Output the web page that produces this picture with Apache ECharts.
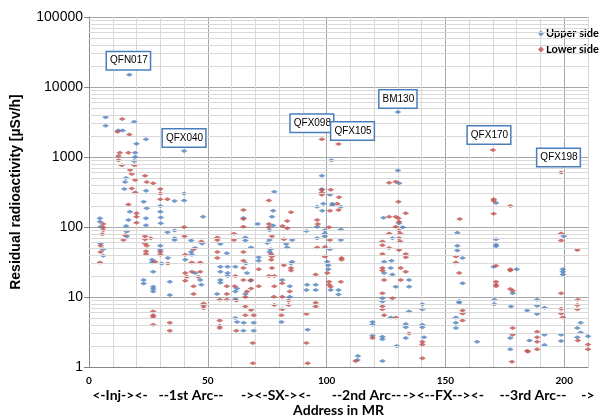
<!DOCTYPE html>
<html>
<head>
<meta charset="utf-8">
<script src="https://cdn.jsdelivr.net/npm/echarts@6/dist/echarts.min.js"></script>
<style>
html, body { margin: 0; padding: 0; background: #fff; }
#chart { width: 601px; height: 417px; }
</style>
</head>
<body>
<div id="chart"></div>
<script>
// address in MR, residual dose [uSv/h]
var upperSide = [
    [17,15000],[7,3700],[7,2800],[19,3200],[12.4,2400],[14.2,2400],[24,1800],[20,1550],[40,1220],
    [19.4,1150],[19.4,1000],[19,880],[15.6,500],[15.2,440],[14.9,350],[24,330],[40,300],[36,235],
    [40,240],[23,230],[24.3,185],[30,200],[30,165],[17.2,165],[24,133],[30.2,137],[48,140],[24,106],
    [30.2,113],[4.6,133],[4.6,119],[4.9,101],[15.6,103],[16.6,126],[15.9,86],[15.9,74],[33,84],
    [36,89],[36,69],[36,65],[43,64],[4.9,58],[6,48],[6,39],[30,54],[30,47],[44.7,50],[43,44],
    [26.5,34],[26.5,31],[47.6,58],[43.3,40],[40.5,34],[30.6,30],[33.2,36],[27,23],[44.7,22],
    [46.8,17.5],[47.3,15],[23,17.5],[23,15.6],[27,14],[27,13],[27,12],[34,16.5],[34,10.7],
    [102,900],[98,540],[98,345],[101.4,290],[106,195],[102.4,215],[102.4,205],[96,195],[98.6,215],
    [98.2,170],[96,101],[106,92],[99.2,90],[99.2,81],[99.2,74],[96,69],[106,65],[101.4,48],
    [100.3,32],[100.7,28.5],[100.7,25],[95.4,15],[101.7,12.6],[105,12.6],[95.4,12.6],[91.8,15],
    [91.5,12.6],[105,10.9],[92,3.4],[91.5,88],[78,320],[77.5,170],[77,140],[77.5,105],[71,110],
    [76,90],[76,65],[75,59],[85.5,65],[83,57],[83.4,51],[76.4,48],[76,44],[85.5,32],[85,30],
    [81.3,17.5],[84.5,14.3],[84.5,10.1],[81,4.4],[65,135],[65.8,71],[65.8,64],[55.3,57],[58,42],
    [68.2,51],[66,30],[71.4,37],[71.4,33],[55.3,27],[58.3,27],[61.6,27],[58.3,22],[58.3,20],
    [55.3,23],[66.5,22],[55.3,17.5],[55.3,16],[68,17],[62.3,13.2],[61.6,12],[53.9,11],[65.8,11],
    [61.6,9.3],[61.6,5],[62.3,4.4],[65.1,4.3],[69.3,4.3],[65,3.3],[69.3,3.3],
    [130,4400],[130,640],[130.5,420],[123.9,136],[130.5,113],[132,99],[127.7,69],[124.2,32],
    [127.3,33],[127,26],[124.2,22],[127.7,21],[134.7,17.5],[134.7,14],[129.1,14],[123.5,9.6],
    [123.5,8.6],[140.3,7.9],[140.3,6.7],[134.7,6.2],[127,5.1],[119.3,4.4],[119.3,4],[133.3,4.1],
    [133.3,3.7],[140.3,4],[140.3,3.7],[123.5,2.7],[123.5,2.5],[119.3,2.8],[133.3,2.6],[141,2.65],
    [129.5,2],[113.2,1.44],[113,1.26],[123.5,1.22],
    [155,83],[155,54],[155,46],[157.2,36],[157.2,15.7],[155.8,8.8],[155.8,8.3],[154.4,5.1],
    [154.4,4.3],[154.4,3.6],[163.3,2.3],
    [171.3,220],[171.3,67],[171.3,56],[171.3,53],[199.8,74],[170.3,27],[180,25],[199.4,25],
    [199.4,23],[199.4,21],[178.3,11.3],[170.6,9.1],[170.6,7.9],[188.6,9.1],[188.6,7.5],[177.6,7.3],
    [184.4,6.4],[191.7,7],[188.6,5.7],[206.9,4.3],[205.5,3.6],[206.9,3.1],[191.7,2.9],[198.7,2.9],
    [177.3,2.6],[185.4,2.4],[198.7,2.35],[205.5,2.65],[191.7,2.06],[210,2.75],[177.3,1.8]
];

var lowerSide = [
    [14,3500],[12,2300],[17,2100],[13,1150],[16.6,1150],[12.4,1030],[12.4,900],[13.8,760],[19.1,760],
    [17.3,650],[18,570],[23.6,540],[19.4,470],[24.3,440],[27,420],[18,355],[30,350],[19.4,310],
    [30,300],[33,250],[30,250],[16.6,210],[20,157],[20,140],[20,115],[40,100],[6,110],[6,98],
    [6,90],[5.6,79],[15.2,77],[14.5,65],[40.2,74],[23.6,74],[23.6,67],[26,69],[23.6,58],[24.3,54],
    [4.9,54],[4.9,44],[4.6,31],[30,44],[30,40],[24,45],[24,41],[27.8,32],[44,48],[47.3,62],
    [43.3,31],[46.8,31],[33.2,30],[40.5,40],[40.5,22],[41.2,19.5],[43.3,23],[46.8,23],[46,19.5],
    [40.5,17],[44,14.3],[44,11],[48.2,8.1],[48.2,7.5],[48.2,6.9],[27,6.2],[27,5.5],[27,5.2],
    [27,4],[34,4.3],[34,3.3],
    [98,1800],[105,1530],[98,340],[98,310],[98,290],[101.7,340],[105.2,265],[104.5,215],[105,175],
    [101.4,170],[96,126],[96.3,110],[101,99],[101.4,65],[96,51],[99.3,52],[99.3,38],[106.3,36],
    [106.3,34],[100.3,22],[95.4,21],[101,16.5],[101,15],[101.7,14],[106,16.5],[95.4,8.3],[95.4,7.3],
    [91.5,5.7],[91.5,2.2],[92,1.13],[75.7,240],[85,162],[83.4,122],[83.4,96],[75.7,110],[75.7,99],
    [77,74],[82,67],[76.7,41],[77,38],[76.7,34],[82,28.5],[85,26],[85,24],[77,26],[75.7,20],[78,20],
    [81.3,15.7],[78,14.3],[84.5,12],[81.3,10.1],[77.8,10.1],[84,8.9],[84,7.7],[78,7.7],[81.3,6.7],
    [81,5.5],[81.4,103],[65,175],[65,130],[65,101],[61,80],[61,65],[54,71],[54,65],[65,44],[54,44],
    [54,36],[65,33],[71.4,25],[65,26],[61.6,20],[65,17.5],[68.2,17.5],[58,14.3],[61.3,14.3],
    [71.4,14.3],[68.2,13.2],[66.5,12],[58,11],[65.8,10],[55,9.1],[58,9.1],[62,8.9],[65.8,7.3],
    [68.2,6.5],[65.8,5.5],[69.3,5.5],[55,4.6],[55,3.9],[55,3.6],[62,3.3],[68.9,2.2],[69,1.13],
    [126.3,430],[129.1,444],[130.2,230],[133.3,157],[126.3,140],[129.1,140],[130.2,133],[130.5,119],
    [129.1,101],[130.5,89],[131,81],[126.3,81],[130.5,69],[131,62],[123.5,62],[123.5,55],[126.3,50],
    [130.5,47],[133.3,41],[133.3,37],[123.5,41],[123.5,26],[123.5,24],[131.2,26],[133.3,23],
    [124.2,17.5],[131.2,17.5],[123.5,11.3],[127.7,9.6],[123.5,7.4],[123.5,6.7],[124.2,5.5],
    [129.1,5.1],[134.7,3],[119.3,2.6],[140.3,2.3],[140.3,2.1],[140.3,1.33],[112.2,1.22],
    [156,130],[154.4,38],[154.4,31],[155.8,22],[157.2,6.4],[157.2,5.8],[157.2,4.6],
    [170,1260],[198.7,600],[170.3,250],[170.3,235],[177.3,200],[170.3,155],[198.7,81],[198.7,64],
    [205.5,47],[171.3,28],[177.3,25],[177.3,24],[171.3,16.5],[171.3,15],[171.3,14.3],[177.3,13],
    [178.3,12.3],[198.7,11.3],[205.7,9.1],[205.5,7.7],[205.5,6.7],[198.7,6.8],[198.7,5.8],[199.4,5.1],
    [178.3,3.6],[178.3,2.9],[188.6,3.2],[188.6,2.65],[188.6,2.3],[205.7,2.4],[210,2.1],[210,1.8],
    [184.4,1.7],[188.6,1.8],[178,1.19],[184.7,1.65]
];

// labelled hot spots
var spotNames = ['QFN017', 'QFX040', 'QFX098', 'QFX105', 'BM130', 'QFX170', 'QFX198'];
var spotAddr = [17, 40, 98, 105, 130, 170, 198];
var spotDose = [15000, 1220, 1800, 1530, 4400, 1260, 600];

var sectionLabels = ['<-Inj-><-', '--1st Arc--', '-><-SX-><-', '--2nd Arc--', '-><--FX--><-', '--3rd Arc--', '->'];
var xTickLabels = [0, 50, 100, 150, 200];

var dom = document.getElementById('chart');
var chart = echarts.init(dom);

var boldFont = 'Lato';
var minorLines = [];
for (var k = 0; k < 5; k++) {
    for (var m = 2; m <= 9; m++) {
        minorLines.push({ yAxis: m * Math.pow(10, k) });
    }
}

// label box offsets from their point (px)
var spotOffsets = [[-1, -14], [0, -13], [-10, -16], [14, -13], [0, -13], [-4, -15], [-1, -15]];
var spotData = [];
for (var i = 0; i < spotNames.length; i++) {
    spotData.push({
        name: spotNames[i],
        coord: [spotAddr[i], spotDose[i]],
        label: { offset: spotOffsets[i] }
    });
}

// centers of the section labels (px)
var sectionX = [120, 191, 276, 366.5, 443.5, 533, 588];
var graphics = [];
for (var j = 0; j < sectionLabels.length; j++) {
    graphics.push({
        type: 'text',
        x: sectionX[j],
        y: 395,
        style: {
            text: sectionLabels[j],
            fill: '#000',
            font: 'bold 14px ' + boldFont,
            align: 'center',
            verticalAlign: 'middle'
        }
    });
}

var option = {
    animation: false,
    backgroundColor: '#fff',
    grid: { left: 89, right: 13, top: 17, bottom: 50, outerBoundsMode: 'none', containLabel: false },
    legend: {
        data: ['Upper side', 'Lower side'],
        orient: 'vertical',
        left: 538,
        top: 28,
        padding: 0,
        itemWidth: 6,
        itemHeight: 6,
        itemGap: 5,
        icon: 'diamond',
        textStyle: { fontFamily: boldFont, fontWeight: 'bold', fontSize: 11, color: '#000', padding: [0, 0, 0, -3] }
    },
    xAxis: {
        type: 'value',
        min: 0,
        max: 210,
        interval: 10,
        name: 'Address in MR',
        nameLocation: 'middle',
        nameGap: 36,
        nameTextStyle: { fontFamily: boldFont, fontWeight: 'bold', fontSize: 14, color: '#000' },
        axisLine: { show: true, lineStyle: { color: '#868686' } },
        axisTick: { show: false },
        axisLabel: {
            margin: 9,
            fontFamily: boldFont,
            fontWeight: 'bold',
            fontSize: 10,
            color: '#000',
            formatter: function (v) { return xTickLabels.indexOf(v) >= 0 ? String(v) : ''; }
        },
        splitLine: {
            show: true,
            lineStyle: { color: ['#a6a6a6', '#d9d9d9', '#d9d9d9', '#d9d9d9', '#d9d9d9'], width: 1 }
        }
    },
    yAxis: {
        type: 'log',
        logBase: 10,
        min: 1,
        max: 100000,
        splitNumber: 5,
        name: 'Residual radioactivity [µSv/h]',
        nameLocation: 'middle',
        nameGap: 66,
        nameTextStyle: { fontFamily: 'Liberation Sans', fontWeight: 'bold', fontSize: 14, color: '#000' },
        axisLine: { show: true, lineStyle: { color: '#868686' } },
        axisTick: { show: true, length: 5, lineStyle: { color: '#868686' } },
        axisLabel: {
            fontFamily: 'Liberation Sans',
            fontSize: 14,
            color: '#000',
            margin: 6,
            formatter: function (v) { return String(Math.round(v)); }
        },
        splitLine: { show: true, lineStyle: { color: '#a6a6a6', width: 1 } }
    },
    graphic: graphics,
    series: [
        {
            name: 'grid minor',
            type: 'line',
            data: [],
            z: 1,
            silent: true,
            markLine: {
                silent: true,
                symbol: ['none', 'none'],
                label: { show: false },
                lineStyle: { color: '#d9d9d9', width: 1, type: 'solid' },
                data: minorLines
            }
        },
        {
            name: 'Upper side',
            type: 'scatter',
            symbol: 'diamond',
            symbolSize: [7, 4],
            itemStyle: { color: '#4F81BD' },
            data: upperSide,
            z: 3
        },
        {
            name: 'Lower side',
            type: 'scatter',
            symbol: 'diamond',
            symbolSize: [7, 4],
            itemStyle: { color: '#C0504D' },
            data: lowerSide,
            z: 3,
            markPoint: {
                symbol: 'rect',
                symbolSize: 1,
                itemStyle: { color: 'rgba(0,0,0,0)' },
                label: {
                    show: true,
                    position: 'inside',
                    formatter: '{b}',
                    fontFamily: 'Liberation Sans',
                    fontSize: 10,
                    color: '#000',
                    backgroundColor: '#fff',
                    borderColor: '#4a7ebb',
                    borderWidth: 1.5,
                    padding: [4, 2, 3, 3]
                },
                data: spotData
            }
        }
    ]
};

chart.setOption(option);
window.addEventListener('resize', function () {
    chart.resize();
});
</script>
</body>
</html>
